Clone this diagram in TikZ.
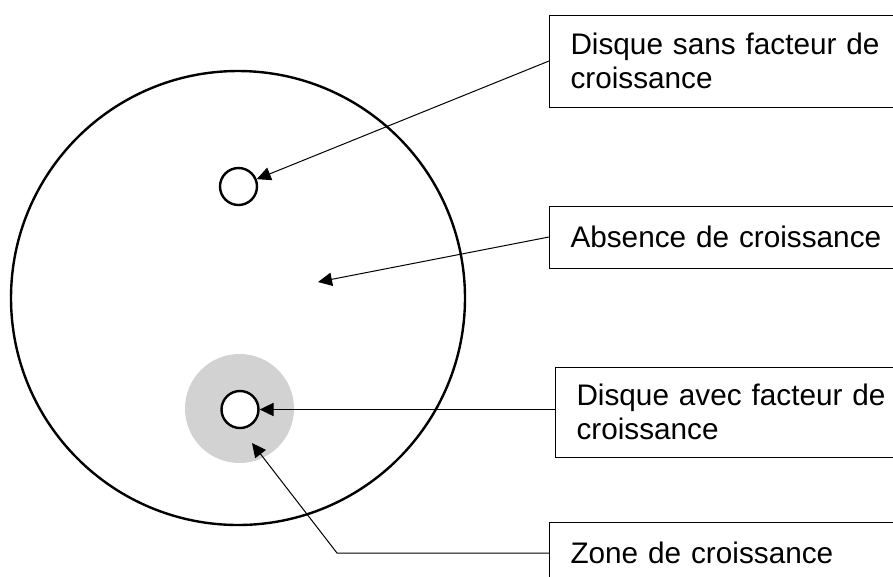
\documentclass[tikz,border=0pt]{standalone}
\usepackage{fontspec}
\setmainfont{Liberation Sans}
\usetikzlibrary{arrows.meta}
\definecolor{zonegray}{RGB}{210,210,210}
\tikzset{
  labelbox/.style={draw, line width=0.75pt, rectangle, anchor=west, align=left,
    text width=250pt, inner xsep=15.75pt, inner ysep=0pt,
    font=\fontsize{22.3pt}{25.5pt}\selectfont},
  smalldisc/.style={circle, draw, line width=1.8pt, fill=white, inner sep=0pt, minimum size=27.75pt},
  pointer/.style={line width=0.75pt, -{Triangle[length=10.5pt, width=10pt]}},
}
\begin{document}
\begin{tikzpicture}[x=0.75pt, y=-0.75pt]
  \clip (0,0) rectangle (893,576);
  \fill[white] (0,0) rectangle (893,576);

  % Petri dish
  \node[circle, draw, line width=1.8pt, inner sep=0pt, minimum size=340.5pt] (dish) at (238,298) {};
  % growth zone around the active disc
  \node[circle, fill=zonegray, inner sep=0pt, minimum size=81.75pt] (zone) at (239.5,408.5) {};
  % the two paper discs
  \node[smalldisc] (c1) at (238.5,186.5) {};
  \node[smalldisc] (c2) at (240,409.5) {};

  % label boxes
  \node[labelbox, minimum height=69pt] (b1) at (549,61) {Disque sans facteur de\\croissance};
  \node[labelbox, minimum height=46.5pt] (b2) at (549,237) {Absence de croissance};
  \node[labelbox, minimum height=67.5pt] (b3) at (555,412) {Disque avec facteur de\\croissance};
  \node[labelbox, minimum height=46.5pt] (b4) at (549,553) {Zone de croissance};

  % pointer targets
  \coordinate (a2) at (318,282);
  \coordinate (a4) at (252,443);
  \coordinate (k4) at (337,553);

  % connectors
  \draw[pointer] (b1.west) -- (c1);
  \draw[pointer] (b2.west) -- (a2);
  \draw[pointer] (b3.west |- c2) -- (c2.east);
  \draw[pointer] (b4.west) -- (k4) -- (a4);
\end{tikzpicture}
\end{document}
